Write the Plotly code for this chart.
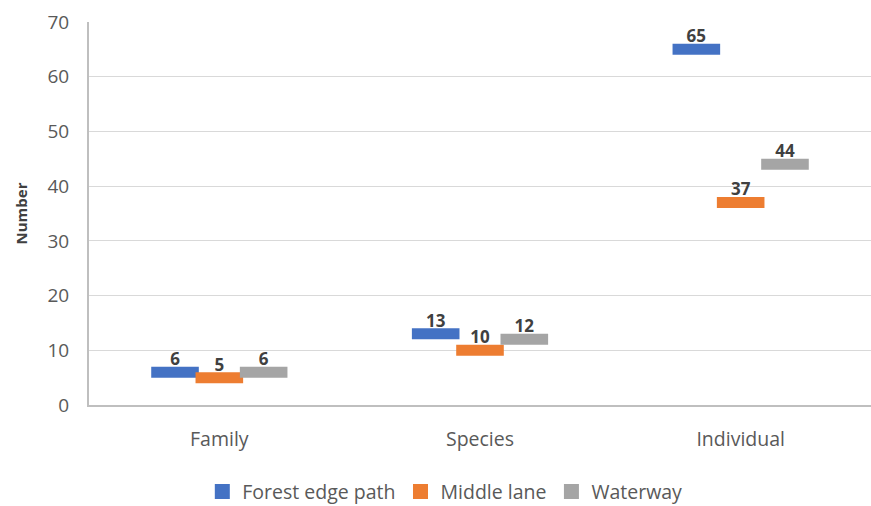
import plotly.graph_objects as go

categories = ["Family", "Species", "Individual"]
series_names = ["Forest edge path", "Middle lane", "Waterway"]
forest_edge = [6, 13, 65]
middle_lane = [5, 10, 37]
waterway = [6, 12, 44]
colors = ["#4472C4", "#ED7D31", "#A5A5A5"]
y_ticks = [0, 10, 20, 30, 40, 50, 60, 70]

series = [forest_edge, middle_lane, waterway]
offsets = [-0.17, 0.0, 0.17]
FONT = "'Open Sans', sans-serif"

fig = go.Figure()
for name, vals, col, off in zip(series_names, series, colors, offsets):
    xs = [i + off for i in range(len(categories))]
    # flat dash marker at each value
    fig.add_trace(go.Scatter(
        x=xs, y=vals, mode="markers", name=name, showlegend=False,
        marker=dict(symbol="line-ew", size=34, color=col,
                    line=dict(width=11, color=col)),
        hoverinfo="skip",
    ))
    # value labels sitting on top of each marker
    fig.add_trace(go.Scatter(
        x=xs, y=vals, mode="markers+text", text=[str(v) for v in vals],
        textposition="top center", showlegend=False,
        marker=dict(size=3, opacity=0),
        textfont=dict(family=FONT, size=17, color="#404040", weight="bold"),
        hoverinfo="skip",
    ))

# legend entries
for name, col in zip(series_names, colors):
    fig.add_trace(go.Scatter(
        x=[None], y=[None], mode="markers", name=name,
        marker=dict(symbol="square", size=15, color=col),
    ))

fig.update_layout(
    width=871, height=506,
    margin=dict(l=89, r=0, t=22, b=101, autoexpand=False),
    plot_bgcolor="white", paper_bgcolor="white",
    font=dict(family=FONT, size=19, color="#595959"),
    showlegend=True,
    legend=dict(orientation="h", x=0.455, xanchor="center",
                yref="container", y=0.028, yanchor="middle",
                font=dict(size=19.5, color="#595959"),
                itemwidth=30, tracegroupgap=0),
    xaxis=dict(
        range=[-0.5, 2.5], tickmode="array",
        tickvals=list(range(len(categories))), ticktext=categories,
        showgrid=False, zeroline=False, automargin=False,
        showline=True, linecolor="#BFBFBF", linewidth=2,
        ticks="outside", ticklen=16, tickcolor="rgba(0,0,0,0)",
        tickfont=dict(size=19.5, color="#595959"),
    ),
    yaxis=dict(
        range=[0, 70], tickvals=y_ticks,
        showgrid=True, gridcolor="#D9D9D9", gridwidth=1,
        zeroline=False, automargin=False,
        showline=True, linecolor="#BFBFBF", linewidth=2,
        ticks="outside", ticklen=14, tickcolor="rgba(0,0,0,0)",
        tickfont=dict(size=19, color="#595959"),
        title=dict(text="<b>Number</b>", standoff=16,
                   font=dict(size=15, color="#404040")),
    ),
)

fig.write_html("out.html")
